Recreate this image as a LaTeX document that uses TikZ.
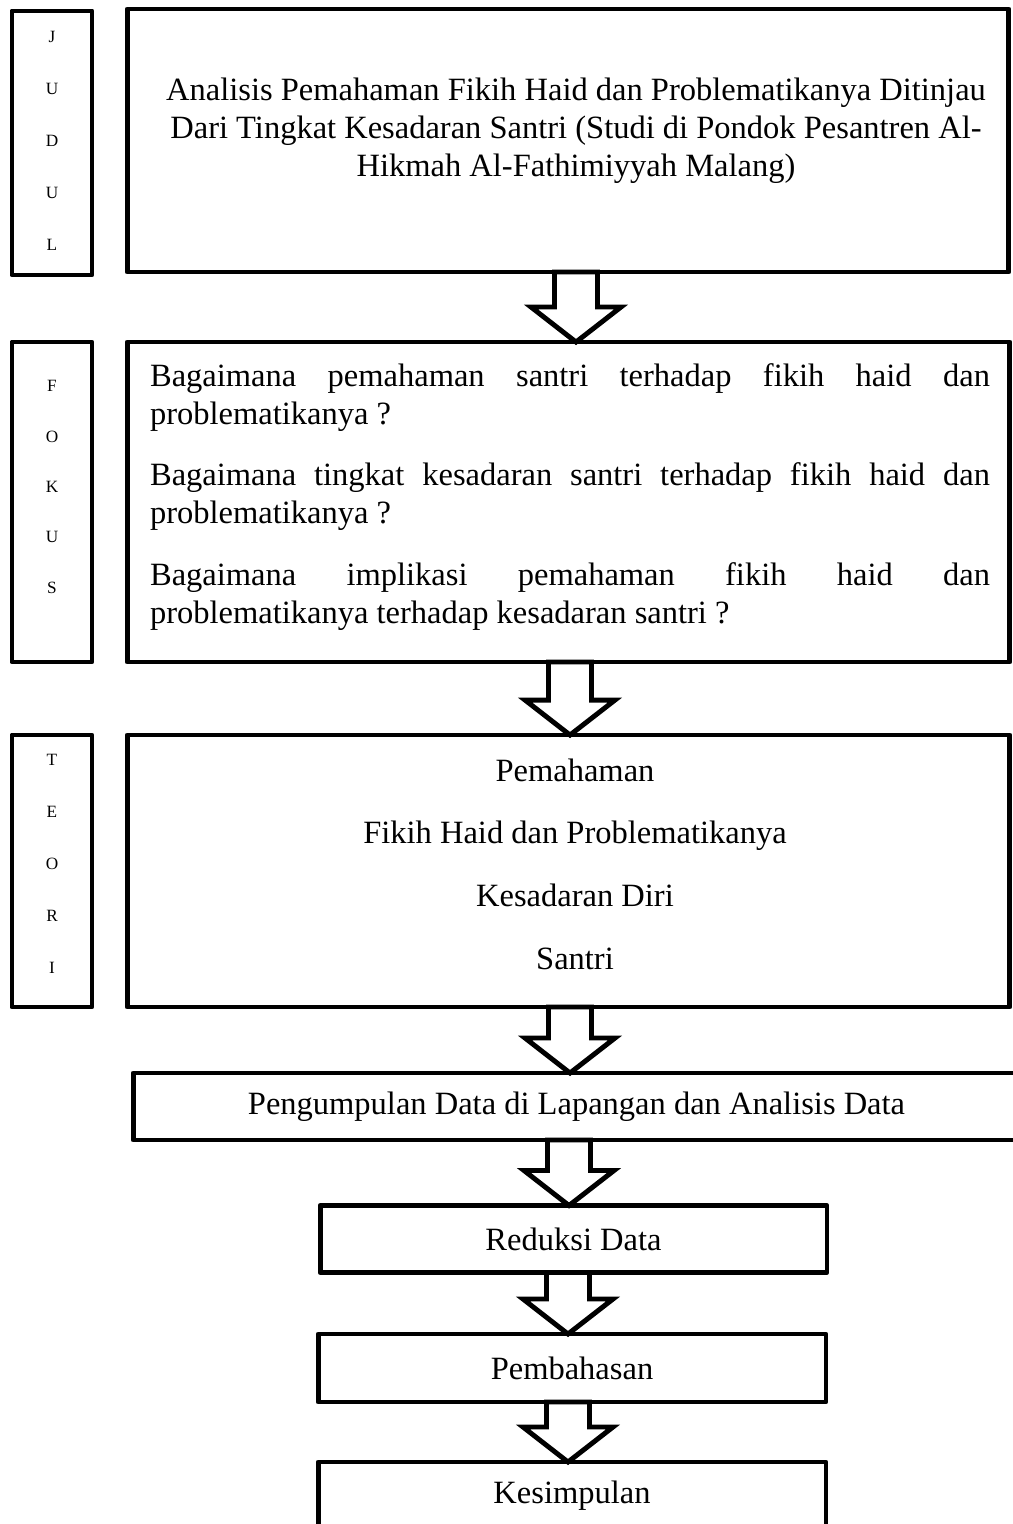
\documentclass[tikz,border=0pt]{standalone}
\usepackage{fontspec}
\setmainfont{Liberation Serif}
\usetikzlibrary{calc}
\tikzset{%
  tagbox/.style={draw, line width=2.8pt, line join=round, inner sep=0pt, outer sep=0pt, minimum width=1.6cm},
  tagtext/.style={align=center, inner sep=0pt, font=\fontsize{9.8}{#1}\selectfont},
  framebox/.style={draw, line width=2.8pt, line join=round, inner sep=0pt, outer sep=0pt, font=\fontsize{18.5}{21.6}\selectfont},
  bodytext/.style={align=center, inner sep=0pt, font=\fontsize{18.5}{21.6}\selectfont},
  hollow/.style={draw, fill=white, line width=2.8pt, line join=miter}
}
\newcommand{\hollowarrow}[3]{%
  \draw [hollow] let \p1=(#2.south), \p2=(#3.north) in
    (#1*0.02cm-0.43cm,\y1) -- (#1*0.02cm-0.43cm,\y2+0.7cm) -- (#1*0.02cm-0.9cm,\y2+0.7cm)
    -- (#1*0.02cm,\y2) -- (#1*0.02cm+0.9cm,\y2+0.7cm) -- (#1*0.02cm+0.43cm,\y2+0.7cm)
    -- (#1*0.02cm+0.43cm,\y1) -- cycle;}

\begin{document}
\begin{tikzpicture}[x=0.02cm, y=-0.02cm]
    \useasboundingbox (0,0) rectangle (1012,1524);

    \node [tagbox, minimum height=5.28cm] (judulTag) at (52,143) {};
    \node [tagtext=29.5pt] (judulLet) at (52,141) {J\\U\\D\\U\\L};
    \node [framebox, minimum width=17.64cm, minimum height=5.26cm] (judulBox) at (568,140.5) {};
    \node [bodytext] (judulTxt) at (576,131)
      {Analisis Pemahaman Fikih Haid dan Problematikanya Ditinjau\\
       Dari Tingkat Kesadaran Santri (Studi di Pondok Pesantren Al-\\
       Hikmah Al-Fathimiyyah Malang)};

    \node [tagbox, minimum height=6.4cm] (fokusTag) at (52,502) {};
    \node [tagtext=28.7pt] (fokusLet) at (52,487) {F\\O\\K\\U\\S};
    \node [framebox, minimum width=17.66cm, minimum height=6.4cm] (fokusBox) at (568.5,502) {};
    \node [bodytext, text width=16.8cm, align=justify] (fokusTxt) at (570,497)
      {Bagaimana pemahaman santri terhadap fikih haid dan\linebreak problematikanya~?\par\vspace{0.48cm}
       Bagaimana tingkat kesadaran santri terhadap fikih haid dan\linebreak problematikanya~?\par\vspace{0.48cm}
       Bagaimana implikasi pemahaman fikih haid dan\linebreak problematikanya terhadap kesadaran santri~?};

    \node [tagbox, minimum height=5.44cm] (teoriTag) at (52,871) {};
    \node [tagtext=29.5pt] (teoriLet) at (52,864) {T\\E\\O\\R\\I};
    \node [framebox, minimum width=17.66cm, minimum height=5.44cm] (teoriBox) at (568.5,871) {};
    \node [bodytext, font=\fontsize{18.5}{35.7}\selectfont] (teoriTxt) at (575,864)
      {Pemahaman\\Fikih Haid dan Problematikanya\\Kesadaran Diri\\Santri};

    \node [framebox, minimum width=17.74cm, minimum height=1.34cm] (kumpulBox) at (576.5,1106.5)
      {Pengumpulan Data di Lapangan dan Analisis Data};
    \node [framebox, minimum width=10.14cm, minimum height=1.34cm] (reduksiBox) at (573.5,1239) {Reduksi Data};
    \node [framebox, minimum width=10.16cm, minimum height=1.36cm] (bahasBox) at (572,1368) {Pembahasan};
    \node [framebox, minimum width=10.16cm, minimum height=1.36cm] (simpulBox) at (572,1496) {Kesimpulan};

    \hollowarrow{576}{judulBox}{fokusBox}
    \hollowarrow{570}{fokusBox}{teoriBox}
    \hollowarrow{570}{teoriBox}{kumpulBox}
    \hollowarrow{569}{kumpulBox}{reduksiBox}
    \hollowarrow{568}{reduksiBox}{bahasBox}
    \hollowarrow{568}{bahasBox}{simpulBox}
\end{tikzpicture}
\end{document}
